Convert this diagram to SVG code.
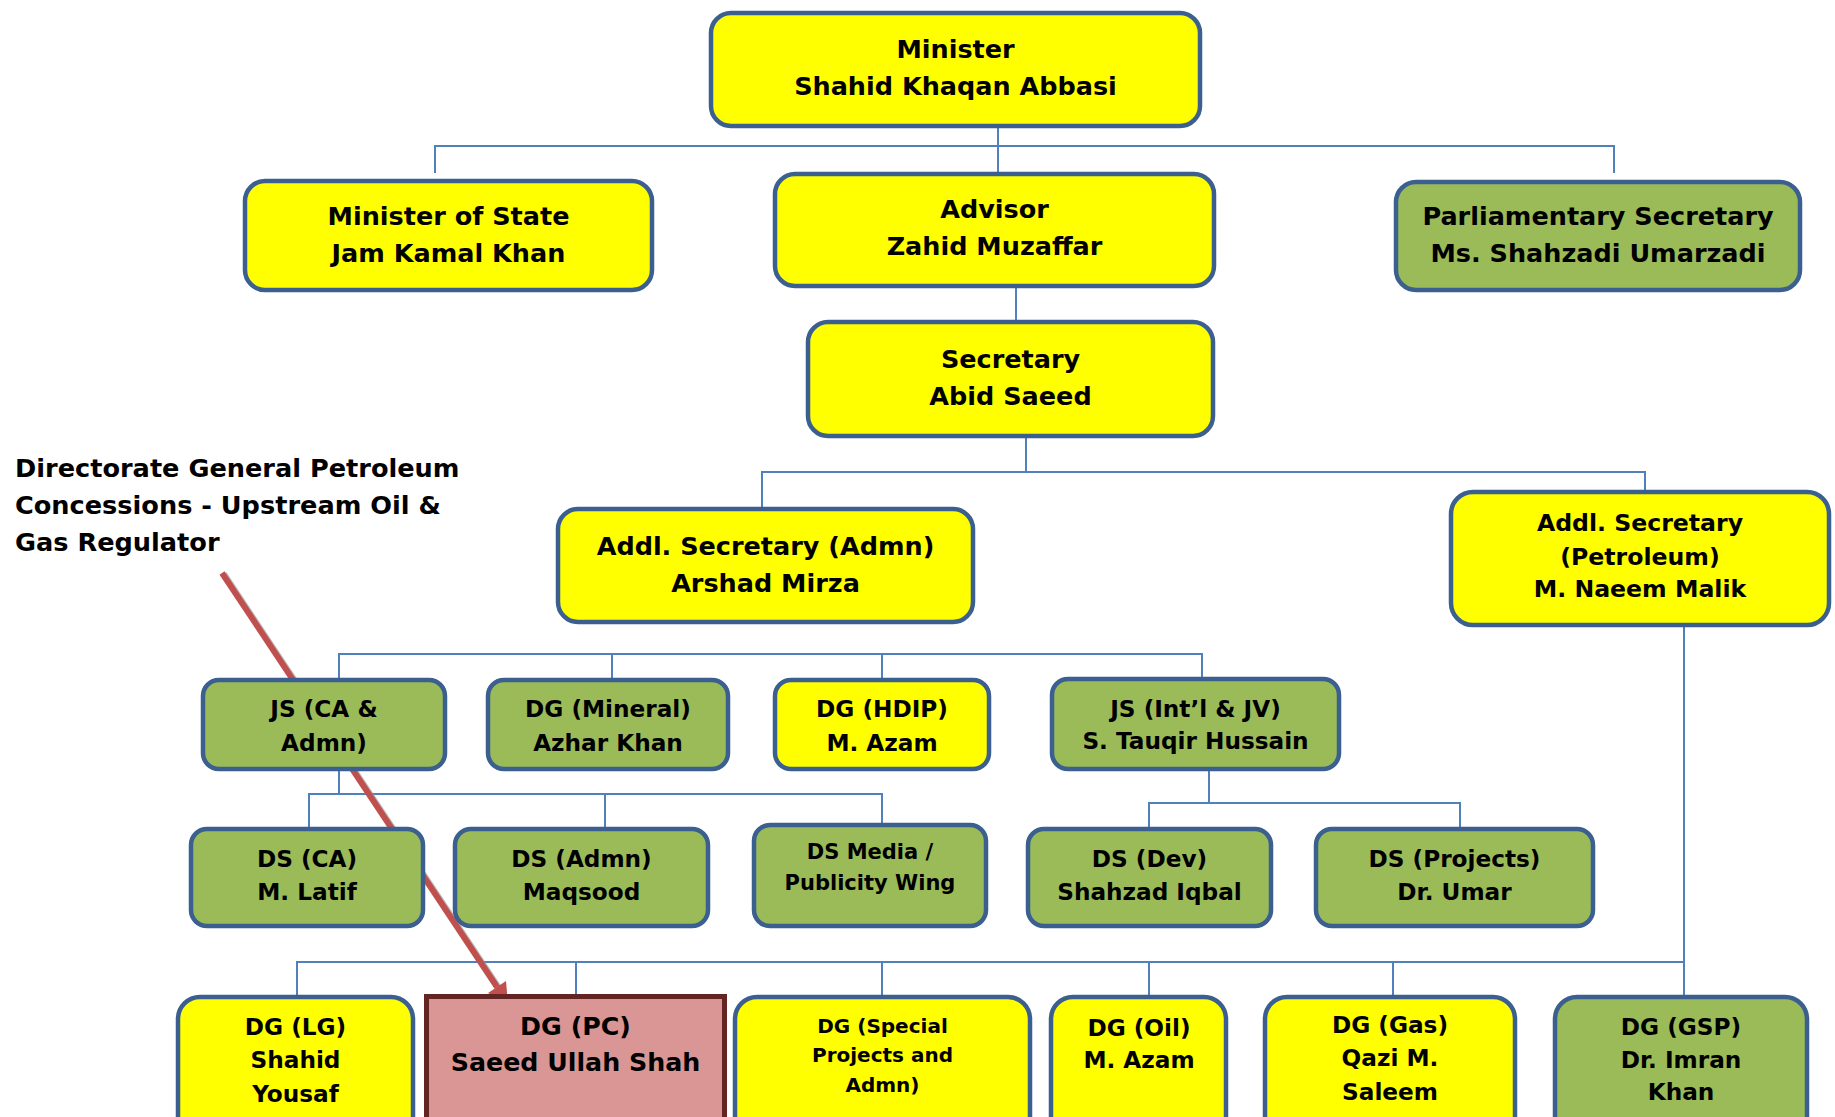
<svg xmlns="http://www.w3.org/2000/svg" width="1835" height="1117" viewBox="0 0 1835 1117">
<style>
.y{fill:#FFFF00;stroke:#3B5F8F;stroke-width:4.5}
.g{fill:#9BBB59;stroke:#3B5F8F;stroke-width:4.5}
.p{fill:#D99694;stroke:#632523;stroke-width:5}
text{font-family:"DejaVu Sans","Verdana",sans-serif;font-weight:bold;fill:#000;text-anchor:middle}
.t25{font-size:25.5px}
.t23{font-size:23.2px}
.t235{font-size:23.6px}
.t21{font-size:21px}
.t20{font-size:20px}
.tpc{font-size:25.3px}
.ann{font-size:25.6px;text-anchor:start}
#connectors path{fill:none;stroke:#4F81BD;stroke-width:2}
</style>
<rect width="1835" height="1117" fill="#fff"/>
<g id="connectors">
<path d="M998 128V172M435 173V146H1614V173"/>
<path d="M1016 288V320"/>
<path d="M1026 438V472M762 507V472H1645V490"/>
<path d="M339 678V654H1202V678M612 654V678M882 654V678"/>
<path d="M339 771V794M309 827V794H882V823M605 794V827"/>
<path d="M1209 771V803M1149 827V803H1460V827"/>
<path d="M1684 627V995M297 995V962H1684M576 962V995M882 962V995M1149 962V995M1393 962V995"/>
</g>
<g id="arrow">
<line x1="224" y1="574" x2="499" y2="988" stroke="#999" stroke-width="6" opacity="0.7"/>
<line x1="222" y1="573" x2="497" y2="987" stroke="#C0504D" stroke-width="6"/>
<polygon points="508,1004 506,981 488,993" fill="#C0504D"/>
</g>
<g id="annotation">
<text class="ann" x="15" y="477">Directorate General Petroleum</text>
<text class="ann" x="15" y="514">Concessions - Upstream Oil &amp;</text>
<text class="ann" x="15" y="551">Gas Regulator</text>
</g>
<g id="n-minister"><rect class="y" x="711" y="13" width="489" height="113" rx="20"/><text class="t25" x="955.5" y="58">Minister</text><text class="t25" x="955.5" y="95">Shahid Khaqan Abbasi</text></g>
<g id="n-mos"><rect class="y" x="245" y="181" width="407" height="109" rx="20"/><text class="t25" x="448.5" y="225">Minister of State</text><text class="t25" x="448.5" y="262">Jam Kamal Khan</text></g>
<g id="n-advisor"><rect class="y" x="775" y="174" width="439" height="112" rx="20"/><text class="t25" x="994.5" y="218">Advisor</text><text class="t25" x="994.5" y="255">Zahid Muzaffar</text></g>
<g id="n-parl"><rect class="g" x="1396" y="182" width="404" height="108" rx="20"/><text class="t25" x="1598" y="225">Parliamentary Secretary</text><text class="t25" x="1598" y="262">Ms. Shahzadi Umarzadi</text></g>
<g id="n-secretary"><rect class="y" x="808" y="322" width="405" height="114" rx="20"/><text class="t25" x="1010.5" y="368">Secretary</text><text class="t25" x="1010.5" y="405">Abid Saeed</text></g>
<g id="n-addl-admn"><rect class="y" x="558" y="509" width="415" height="113" rx="20"/><text class="t25" x="765.5" y="555">Addl. Secretary (Admn)</text><text class="t25" x="765.5" y="592">Arshad Mirza</text></g>
<g id="n-addl-pet"><rect class="y" x="1451" y="492" width="378" height="133" rx="22"/><text class="t235" x="1640" y="531">Addl. Secretary</text><text class="t235" x="1640" y="565">(Petroleum)</text><text class="t235" x="1640" y="597">M. Naeem Malik</text></g>
<g id="n-js-ca"><rect class="g" x="203" y="680" width="242" height="89" rx="16"/><text class="t23" x="324" y="717">JS (CA &amp;</text><text class="t23" x="324" y="751">Admn)</text></g>
<g id="n-dg-mineral"><rect class="g" x="488" y="680" width="240" height="89" rx="16"/><text class="t23" x="608" y="717">DG (Mineral)</text><text class="t23" x="608" y="751">Azhar Khan</text></g>
<g id="n-dg-hdip"><rect class="y" x="775" y="680" width="214" height="89" rx="16"/><text class="t23" x="882" y="717">DG (HDIP)</text><text class="t23" x="882" y="751">M. Azam</text></g>
<g id="n-js-intl"><rect class="g" x="1052" y="679" width="287" height="90" rx="16"/><text class="t23" x="1195.5" y="717">JS (Int’l &amp; JV)</text><text class="t23" x="1195.5" y="749">S. Tauqir Hussain</text></g>
<g id="n-ds-ca"><rect class="g" x="191" y="829" width="232" height="97" rx="16"/><text class="t23" x="307" y="867">DS (CA)</text><text class="t23" x="307" y="900">M. Latif</text></g>
<g id="n-ds-admn"><rect class="g" x="455" y="829" width="253" height="97" rx="16"/><text class="t23" x="581.5" y="867">DS (Admn)</text><text class="t23" x="581.5" y="900">Maqsood</text></g>
<g id="n-ds-media"><rect class="g" x="754" y="825" width="232" height="101" rx="16"/><text class="t21" x="870" y="859">DS Media /</text><text class="t21" x="870" y="890">Publicity Wing</text></g>
<g id="n-ds-dev"><rect class="g" x="1028" y="829" width="243" height="97" rx="16"/><text class="t23" x="1149.5" y="867">DS (Dev)</text><text class="t23" x="1149.5" y="900">Shahzad Iqbal</text></g>
<g id="n-ds-projects"><rect class="g" x="1316" y="829" width="277" height="97" rx="16"/><text class="t23" x="1454.5" y="867">DS (Projects)</text><text class="t23" x="1454.5" y="900">Dr. Umar</text></g>
<g id="n-dg-lg"><rect class="y" x="178" y="997" width="235" height="150" rx="22"/><text class="t23" x="295.5" y="1035">DG (LG)</text><text class="t23" x="295.5" y="1068">Shahid</text><text class="t23" x="295.5" y="1102">Yousaf</text></g>
<g id="n-dg-pc"><rect class="p" x="426.5" y="996.5" width="298" height="150"/><text class="tpc" x="575.5" y="1035">DG (PC)</text><text class="tpc" x="575.5" y="1071">Saeed Ullah Shah</text></g>
<g id="n-dg-special"><rect class="y" x="735" y="997" width="295" height="150" rx="22"/><text class="t20" x="882.5" y="1033">DG (Special</text><text class="t20" x="882.5" y="1062">Projects and</text><text class="t20" x="882.5" y="1092">Admn)</text></g>
<g id="n-dg-oil"><rect class="y" x="1051" y="997" width="175" height="150" rx="22"/><text class="t23" x="1139" y="1036">DG (Oil)</text><text class="t23" x="1139" y="1068">M. Azam</text></g>
<g id="n-dg-gas"><rect class="y" x="1265" y="997" width="250" height="150" rx="22"/><text class="t23" x="1390" y="1033">DG (Gas)</text><text class="t23" x="1390" y="1066">Qazi M.</text><text class="t23" x="1390" y="1100">Saleem</text></g>
<g id="n-dg-gsp"><rect class="g" x="1555" y="997" width="252" height="150" rx="22"/><text class="t23" x="1681" y="1035">DG (GSP)</text><text class="t23" x="1681" y="1068">Dr. Imran</text><text class="t23" x="1681" y="1100">Khan</text></g>
</svg>
